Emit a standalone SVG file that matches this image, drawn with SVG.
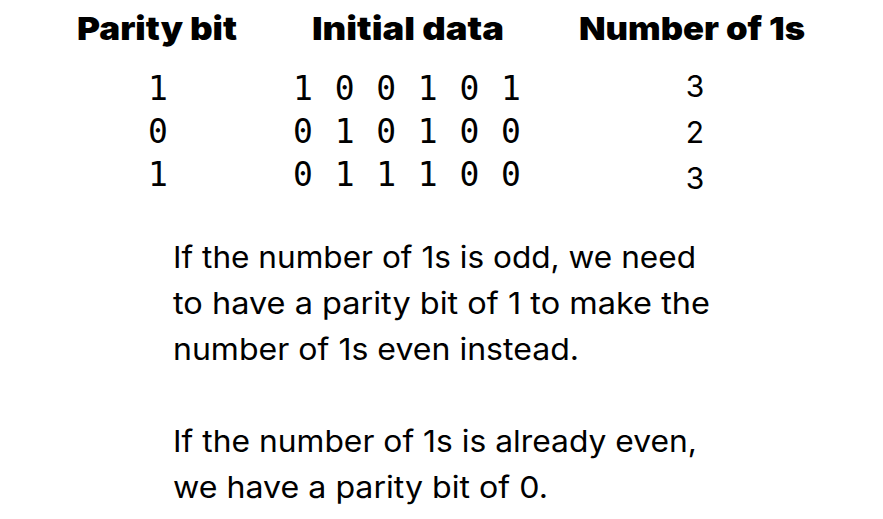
<svg xmlns="http://www.w3.org/2000/svg" width="883" height="519" viewBox="0 0 883 519">
<style>
.h{font-family:"Inter","Open Sans","Liberation Sans",sans-serif;font-weight:900;font-size:32px;fill:#000}
.m{font-family:"DejaVu Sans Mono","Liberation Mono",monospace;font-size:33px;fill:#000}
.n{font-family:"Inter","Open Sans","Liberation Sans",sans-serif;font-size:30px;fill:#000}
.p{font-family:"Inter","Open Sans","Liberation Sans",sans-serif;font-size:30px;fill:#000}
</style>
<rect width="883" height="519" fill="#fff"/>
<g id="headers">
<text class="h" x="77" y="40" textLength="160" lengthAdjust="spacingAndGlyphs">Parity bit</text>
<text class="h" x="312" y="40" textLength="192" lengthAdjust="spacingAndGlyphs">Initial data</text>
<text class="h" x="579" y="40" textLength="226" lengthAdjust="spacingAndGlyphs">Number of 1s</text>
</g>
<g id="parity" class="m" text-anchor="middle">
<text x="158" y="100">1</text>
<text x="158" y="143">0</text>
<text x="158" y="186">1</text>
</g>
<g id="data" class="m" text-anchor="middle">
<text x="303 344.6 386.2 427.8 469.4 511" y="100">100101</text>
<text x="303 344.6 386.2 427.8 469.4 511" y="143">010100</text>
<text x="303 344.6 386.2 427.8 469.4 511" y="186">011100</text>
</g>
<g id="counts" class="n" text-anchor="middle">
<text x="695" y="97">3</text>
<text x="695" y="143">2</text>
<text x="695" y="189">3</text>
</g>
<g id="explanation" class="p">
<text x="173" y="268" textLength="523" lengthAdjust="spacingAndGlyphs">If the number of 1s is odd, we need</text>
<text x="173" y="314" textLength="537" lengthAdjust="spacingAndGlyphs">to have a parity bit of 1 to make the</text>
<text x="173" y="360" textLength="406" lengthAdjust="spacingAndGlyphs">number of 1s even instead.</text>
<text x="173" y="452" textLength="524" lengthAdjust="spacingAndGlyphs">If the number of 1s is already even,</text>
<text x="173" y="498" textLength="375" lengthAdjust="spacingAndGlyphs">we have a parity bit of 0.</text>
</g>
</svg>
